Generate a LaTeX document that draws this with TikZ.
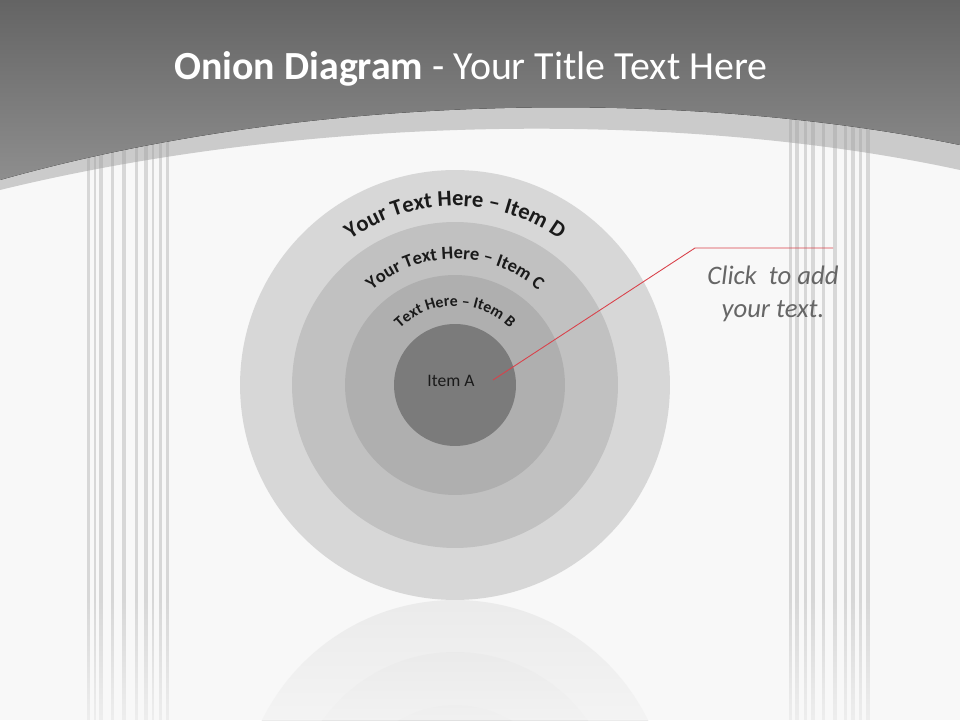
\documentclass[tikz,border=0pt]{standalone}
\usepackage{fontspec}
\setmainfont{Carlito}
\usetikzlibrary{positioning,decorations.text,fadings}
\definecolor{pageBg}{HTML}{F8F8F8}
\definecolor{headTop}{HTML}{646464}
\definecolor{headBottom}{HTML}{8E8E8E}
\definecolor{bandGray}{HTML}{CBCBCB}
\definecolor{stripeGray}{HTML}{9C9C9C}
\definecolor{ringD}{HTML}{D7D7D7}
\definecolor{ringC}{HTML}{C1C1C1}
\definecolor{ringB}{HTML}{AFAFAF}
\definecolor{ringA}{HTML}{7B7B7B}
\definecolor{textDark}{HTML}{1A1A1A}
\definecolor{noteGray}{HTML}{666666}
\definecolor{calloutRed}{HTML}{D9414A}
\tikzfading[name=reflfade, top color=transparent!100, bottom color=transparent!30]

\begin{document}
\begin{tikzpicture}[
    x=0.02cm, y=0.02cm,
    ring/.style={
        circle,
        draw=none,
        inner sep=0pt
    },
    arclabel/.style={
        decorate,
        decoration={text along path, text align=center, text color=textDark}
    },
    stripe/.style={
        draw=stripeGray,
        opacity=0.35
    },
    callout/.style={
        draw=calloutRed,
        line width=0.5pt
    }
]

    % ---------------------------------------------------------
    % BACKGROUND AND HEADER
    % ---------------------------------------------------------
    \useasboundingbox (0,0) rectangle (960,720);
    \fill[pageBg] (0,0) rectangle (960,720);
    \fill[bandGray] (0,720) -- (0,530) .. controls (320,608) and (693,608) .. (960,550) -- (960,720) -- cycle;

    % stripes on both sides
    \foreach \xs/\w in {88/3,95/2,101/4,112/3,124/4,136/3,146/4,153/2,160/3,167/3,
                        790/3,797/4,805/3,813/4,823/3,835/4,845/3,853/4,860/3,868/4}
        \draw[stripe, line width=\w*0.02cm] (\xs,0) -- (\xs,640);

    \fill[top color=headTop, bottom color=headBottom] (0,720) -- (0,540) .. controls (320,630) and (693,630) .. (960,575) -- (960,720) -- cycle;

    \node[text=white, font=\fontsize{22.7}{27}\selectfont] (title) at (471,651) {\textbf{Onion Diagram} - Your Title Text Here};

    % ---------------------------------------------------------
    % REFLECTION
    % ---------------------------------------------------------
    \begin{scope}
        \clip (0,0) rectangle (960,720);
        \fill[black!8] (455,-95) circle[radius=215];
        \fill[black!10] (455,-95) circle[radius=163];
        \fill[black!12] (455,-95) circle[radius=110];
        \fill[pageBg, path fading=reflfade, fit fading=true] (0,0) rectangle (960,122);
    \end{scope}

    % ---------------------------------------------------------
    % THE ONION
    % ---------------------------------------------------------
    \coordinate (ctr) at (455,335);
    \node[ring, fill=ringD, minimum size=8.6cm] (itemD) at (ctr) {};
    \node[ring, fill=ringC, minimum size=6.52cm] (itemC) at (ctr) {};
    \node[ring, fill=ringB, minimum size=4.4cm] (itemB) at (ctr) {};
    \node[ring, fill=ringA, minimum size=2.44cm] (itemA) at (ctr) {};
    \node[text=textDark, font=\fontsize{10}{12}\selectfont] (labelA) at (451,339) {Item A};

    % curved labels
    \path[arclabel, decoration={text={|\bfseries\fontsize{12.8}{14}\selectfont|Your Text Here – Item D}}]
        ([shift={(180:179)}]ctr) arc[start angle=180, end angle=0, radius=179];
    \path[arclabel, decoration={text={|\bfseries\fontsize{10.5}{12}\selectfont|Your Text Here – Item C}}]
        ([shift={(180:126)}]ctr) arc[start angle=180, end angle=0, radius=126];
    \path[arclabel, decoration={text={|\bfseries\fontsize{9}{10}\selectfont|Text Here – Item B}}]
        ([shift={(180:79)}]ctr) arc[start angle=180, end angle=0, radius=79];

    % ---------------------------------------------------------
    % CALLOUT
    % ---------------------------------------------------------
    \coordinate (tipA) at (493,340);
    \coordinate (elbow) at (695,472);
    \coordinate (lineEnd) at (833,472);
    \draw[callout] (tipA) -- (elbow) -- (lineEnd);

    \node[align=center, text=noteGray, font=\itshape\fontsize{15.2}{19}\selectfont] (note) at (773,426) {Click\ \ to add\\your text.};

\end{tikzpicture}
\end{document}
